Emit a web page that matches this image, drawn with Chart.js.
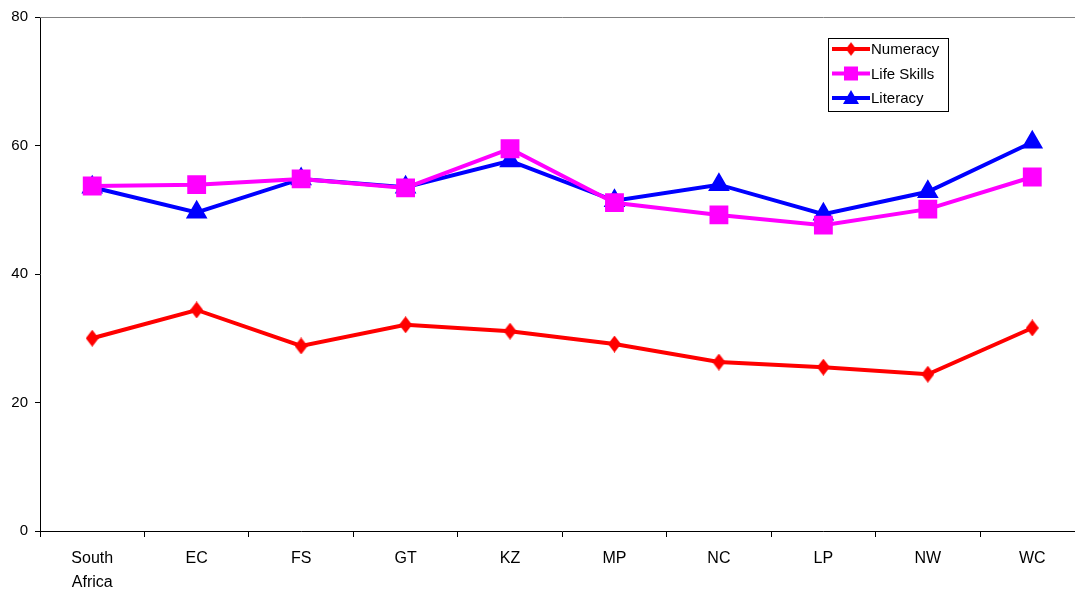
<!DOCTYPE html>
<html>
<head>
<meta charset="utf-8">
<script src="https://cdn.jsdelivr.net/npm/chart.js@4/dist/chart.umd.min.js"></script>
<style>
  html, body { margin: 0; padding: 0; background: #fff; overflow: hidden; width: 1075px; height: 592px; }
  canvas { display: block; }
</style>
</head>
<body>
<!-- wider than the window: the original plot runs a few pixels past the right edge -->
<canvas id="chart" width="1099" height="592"></canvas>
<script>
const regions = [["South", "Africa"], "EC", "FS", "GT", "KZ", "MP", "NC", "LP", "NW", "WC"];
const numeracy = [30.0, 34.4, 28.8, 32.1, 31.1, 29.1, 26.3, 25.5, 24.4, 31.6];
const lifeSkills = [53.7, 53.9, 54.8, 53.4, 59.5, 51.1, 49.2, 47.6, 50.1, 55.1];
const literacy = [53.5, 49.6, 54.8, 53.5, 57.6, 51.4, 53.9, 49.3, 52.8, 60.5];
const yTicks = [0, 20, 40, 60, 80];

// tall narrow diamond like the original marker
function makeDiamond(color, w, h) {
  const c = document.createElement("canvas");
  c.width = w; c.height = h;
  const g = c.getContext("2d");
  g.fillStyle = color;
  g.beginPath();
  g.moveTo(w / 2, 0); g.lineTo(w, h / 2); g.lineTo(w / 2, h); g.lineTo(0, h / 2);
  g.closePath();
  g.fill();
  return c;
}
const diamond = makeDiamond("#ff0000", 13, 17);

const frame = {
  id: "frame",
  afterDraw(chart) {
    const { ctx, chartArea } = chart;
    ctx.save();
    ctx.strokeStyle = "#808080";
    ctx.lineWidth = 1;
    ctx.beginPath();
    ctx.moveTo(chartArea.left, chartArea.top + 0.5);
    ctx.lineTo(chartArea.right, chartArea.top + 0.5);
    ctx.stroke();

    // legend box
    const bx = 828, by = 38, bw = 120, bh = 73;
    ctx.fillStyle = "#fff";
    ctx.fillRect(bx, by, bw, bh);
    ctx.strokeStyle = "#000";
    ctx.strokeRect(bx + 0.5, by + 0.5, bw, bh);
    ctx.font = "15px 'Liberation Sans', Arial, sans-serif";
    ctx.textBaseline = "middle";
    chart.data.datasets.forEach((ds, i) => {
      const y = 49 + i * 24.5;
      ctx.strokeStyle = ds.borderColor;
      ctx.lineWidth = 4;
      ctx.beginPath();
      ctx.moveTo(832, y); ctx.lineTo(870, y);
      ctx.stroke();
      const cx = 851;
      ctx.fillStyle = ds.borderColor;
      if (ds.pointStyle === "rect") {
        ctx.fillRect(cx - 7, y - 7, 14, 14);
      } else if (ds.pointStyle === "triangle") {
        ctx.beginPath();
        ctx.moveTo(cx, y - 8); ctx.lineTo(cx + 8, y + 6); ctx.lineTo(cx - 8, y + 6);
        ctx.closePath(); ctx.fill();
      } else {
        ctx.drawImage(diamond, cx - 5, y - 7, 10, 14);
      }
      ctx.fillStyle = "#000";
      ctx.fillText(ds.label, 871, y + 1);
    });
    ctx.restore();
  }
};

new Chart(document.getElementById("chart"), {
  type: "line",
  data: {
    labels: regions,
    datasets: [
      { label: "Numeracy", data: numeracy, borderColor: "#ff0000", backgroundColor: "#ff0000",
        borderWidth: 4, pointStyle: diamond, pointRadius: 9 },
      { label: "Life Skills", data: lifeSkills, borderColor: "#ff00ff", backgroundColor: "#ff00ff",
        borderWidth: 4, pointStyle: "rect", pointRadius: 10.5 },
      { label: "Literacy", data: literacy, borderColor: "#0000ff", backgroundColor: "#0000ff",
        borderWidth: 4, pointStyle: "triangle", pointRadius: 8.5 }
    ]
  },
  options: {
    responsive: false,
    animation: false,
    devicePixelRatio: 1,
    layout: { padding: { top: 17, right: 0, left: 0, bottom: 0 } },
    plugins: { legend: { display: false }, tooltip: { enabled: false } },
    scales: {
      x: {
        offset: true,
        grid: { display: true, drawOnChartArea: false, offset: true, tickLength: 6, tickColor: "#000" },
        border: { color: "#000", width: 1 },
        ticks: { color: "#000", padding: 10, maxRotation: 0, autoSkip: false,
                 font: { family: "'Liberation Sans', Arial, sans-serif", size: 16, lineHeight: 1.5 } },
        afterFit(scale) { scale.height = 61; scale.paddingLeft = 0; scale.paddingRight = 0; }
      },
      y: {
        min: 0, max: 80,
        afterBuildTicks(scale) { scale.ticks = yTicks.map(v => ({ value: v })); },
        grid: { display: true, drawOnChartArea: false, tickLength: 5, tickColor: "#000" },
        border: { color: "#000", width: 1 },
        ticks: { color: "#000", padding: 7,
                 font: { family: "'Liberation Sans', Arial, sans-serif", size: 15 } },
        afterFit(scale) { scale.width = 40; scale.paddingTop = 0; scale.paddingBottom = 0; }
      }
    }
  },
  plugins: [frame]
});
</script>
</body>
</html>
